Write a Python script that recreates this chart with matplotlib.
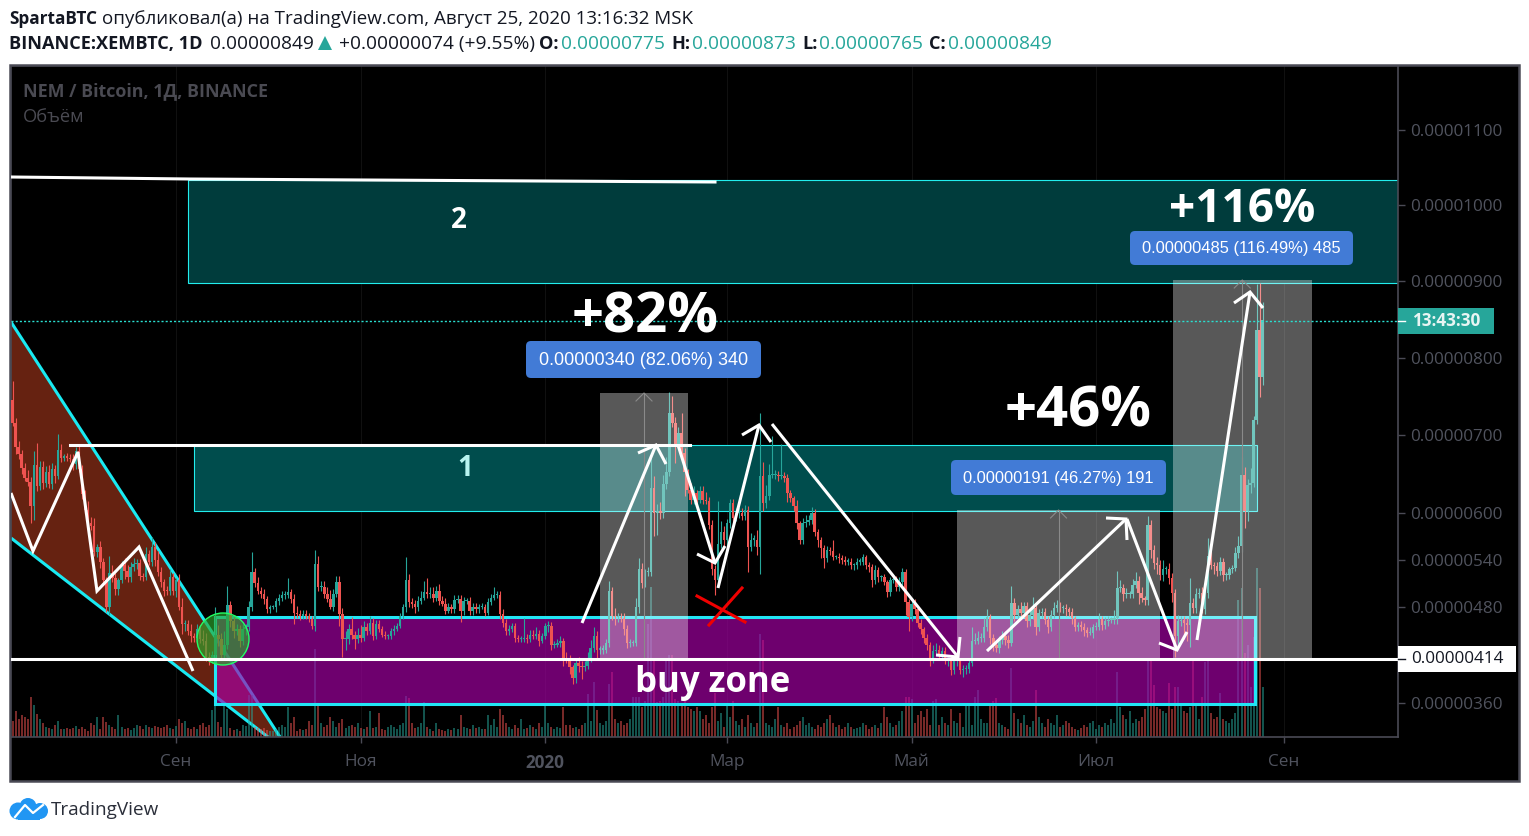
import matplotlib
matplotlib.use('Agg')
import matplotlib.pyplot as plt
import matplotlib.dates as mdates
import numpy as np
import pandas as pd
from matplotlib.patches import Rectangle, Polygon, Circle, FancyBboxPatch
from matplotlib.transforms import Affine2D

# XEMBTC daily candles (prices in satoshi)
start_day = '2019-07-09'
first_open = 745
closes = [
    716, 684, 675, 658, 645, 640, 609, 662, 634, 659,
    639, 652, 637, 656, 648, 681, 671, 672, 671, 669,
    663, 680, 656, 624, 604, 587, 583, 550, 556, 538,
    514, 480, 523, 517, 503, 514, 533, 526, 518, 531,
    535, 536, 520, 518, 548, 538, 557, 540, 525, 512,
    501, 500, 518, 501, 514, 480, 458, 458, 449, 443,
    441, 452, 439, 437, 417, 415, 419, 445, 439, 419,
    432, 482, 462, 449, 452, 437, 452, 454, 480, 525,
    510, 501, 497, 490, 477, 480, 480, 488, 492, 495,
    495, 499, 490, 473, 471, 469, 471, 469, 465, 456,
    535, 505, 505, 497, 490, 480, 497, 512, 471, 439,
    439, 452, 445, 439, 445, 441, 454, 449, 460, 443,
    458, 452, 445, 443, 443, 449, 452, 456, 469, 480,
    514, 486, 484, 480, 488, 492, 499, 497, 497, 492,
    501, 488, 484, 475, 480, 477, 489, 490, 475, 488,
    488, 475, 480, 477, 480, 480, 473, 486, 492, 495,
    495, 471, 460, 449, 452, 456, 441, 439, 439, 441,
    439, 445, 443, 446, 437, 443, 456, 456, 432, 432,
    434, 437, 415, 414, 404, 391, 409, 406, 404, 406,
    415, 428, 443, 426, 426, 426, 434, 501, 469, 467,
    467, 466, 452, 434, 434, 434, 480, 528, 510, 525,
    525, 632, 600, 602, 600, 637, 652, 729, 716, 688,
    703, 677, 652, 630, 617, 626, 617, 628, 617, 615,
    585, 529, 514, 561, 576, 566, 587, 613, 594, 600,
    600, 596, 604, 557, 566, 566, 557, 647, 613, 622,
    649, 649, 649, 647, 648, 645, 626, 619, 609, 587,
    566, 587, 589, 591, 600, 576, 566, 555, 542, 553,
    551, 544, 544, 542, 540, 538, 538, 533, 533, 538,
    538, 544, 533, 531, 514, 527, 518, 518, 512, 499,
    514, 514, 505, 512, 525, 486, 467, 484, 477, 460,
    452, 441, 432, 415, 424, 426, 419, 424, 413, 413,
    400, 411, 411, 400, 402, 402, 409, 437, 437, 441,
    441, 454, 467, 441, 432, 428, 438, 443, 438, 434,
    485, 470, 477, 472, 481, 462, 470, 479, 455, 472,
    474, 464, 455, 470, 479, 483, 479, 479, 477, 474,
    466, 455, 457, 455, 451, 447, 447, 455, 455, 465,
    457, 462, 464, 464, 466, 504, 504, 496, 496, 496,
    508, 513, 498, 491, 489, 585, 553, 536, 534, 521,
    528, 528, 517, 498, 443, 462, 464, 460, 457, 485,
    479, 496, 498, 477, 498, 545, 534, 532, 526, 538,
    521, 521, 528, 530, 549, 558, 649, 602, 636, 638,
    719, 836, 775, 849,
]
# wick lengths above and below the candle body
wick_up = [
    25, 6, 8, 6, 6, 10, 6, 18, 28, 8,
    8, 8, 10, 8, 6, 20, 8, 4, 5, 4,
    6, 4, 6, 6, 5, 12, 8, 10, 4, 8,
    5, 4, 22, 10, 6, 3, 6, 10, 8, 6,
    8, 5, 5, 4, 8, 5, 12, 6, 12, 6,
    4, 6, 10, 6, 3, 8, 12, 5, 6, 10,
    4, 6, 5, 12, 10, 6, 5, 35, 12, 8,
    18, 25, 6, 5, 6, 5, 6, 5, 8, 25,
    5, 8, 4, 6, 4, 3, 3, 4, 5, 5,
    5, 18, 4, 6, 8, 5, 5, 5, 4, 4,
    18, 10, 8, 8, 8, 12, 6, 8, 8, 8,
    10, 6, 15, 4, 8, 12, 8, 6, 8, 6,
    6, 5, 4, 4, 3, 4, 5, 4, 4, 4,
    30, 8, 6, 5, 6, 8, 14, 18, 8, 8,
    6, 8, 6, 8, 5, 4, 6, 5, 5, 5,
    4, 5, 5, 5, 4, 5, 4, 5, 4, 10,
    6, 5, 6, 5, 5, 4, 4, 4, 4, 25,
    5, 6, 6, 8, 5, 4, 4, 6, 5, 5,
    6, 6, 4, 8, 5, 3, 6, 8, 5, 5,
    8, 10, 12, 6, 5, 6, 5, 12, 5, 10,
    5, 5, 6, 5, 5, 4, 12, 14, 8, 4,
    6, 38, 15, 10, 12, 12, 20, 27, 22, 8,
    8, 25, 6, 5, 8, 8, 4, 6, 6, 10,
    5, 6, 5, 54, 14, 8, 5, 5, 5, 6,
    8, 6, 6, 5, 8, 6, 12, 82, 18, 14,
    14, 50, 6, 5, 40, 5, 5, 4, 3, 8,
    3, 6, 8, 6, 8, 5, 3, 3, 4, 5,
    3, 14, 3, 5, 4, 5, 4, 4, 3, 4,
    5, 4, 3, 5, 4, 6, 4, 3, 4, 3,
    4, 4, 5, 6, 5, 3, 4, 8, 6, 4,
    5, 3, 5, 3, 8, 8, 6, 5, 5, 3,
    3, 5, 3, 4, 5, 5, 4, 18, 10, 8,
    6, 12, 10, 4, 5, 4, 5, 6, 6, 6,
    22, 6, 6, 10, 6, 5, 8, 14, 4, 6,
    5, 5, 4, 6, 8, 6, 4, 4, 5, 3,
    5, 3, 4, 5, 5, 4, 8, 3, 6, 8,
    4, 5, 4, 3, 10, 22, 10, 5, 8, 4,
    8, 12, 6, 8, 3, 11, 6, 6, 8, 6,
    12, 4, 8, 6, 5, 8, 5, 4, 6, 32,
    6, 8, 6, 8, 4, 23, 6, 4, 5, 6,
    4, 4, 3, 4, 8, 12, 23, 10, 8, 20,
    6, 60, 62, 24,
]
wick_dn = [
    4, 8, 6, 8, 4, 6, 22, 18, 6, 5,
    8, 6, 5, 6, 10, 4, 5, 4, 4, 4,
    8, 6, 4, 6, 5, 6, 5, 5, 6, 8,
    6, 6, 10, 5, 8, 8, 4, 10, 6, 6,
    5, 6, 6, 5, 4, 5, 6, 8, 5, 6,
    7, 5, 5, 6, 8, 4, 12, 8, 5, 8,
    5, 6, 5, 5, 6, 8, 6, 3, 8, 6,
    6, 5, 8, 8, 4, 8, 5, 8, 4, 5,
    5, 5, 6, 6, 5, 4, 3, 6, 5, 4,
    5, 3, 5, 14, 5, 6, 4, 4, 4, 4,
    6, 4, 5, 5, 4, 3, 5, 4, 15, 22,
    14, 6, 6, 12, 5, 5, 4, 5, 3, 5,
    4, 4, 3, 3, 3, 4, 4, 3, 3, 4,
    6, 6, 5, 8, 5, 4, 3, 6, 5, 5,
    4, 5, 3, 4, 3, 4, 5, 4, 14, 5,
    4, 5, 5, 4, 4, 3, 5, 3, 3, 3,
    4, 6, 5, 5, 4, 4, 6, 4, 3, 4,
    5, 4, 4, 3, 6, 3, 3, 8, 6, 4,
    3, 5, 10, 5, 8, 8, 6, 8, 14, 5,
    4, 5, 5, 12, 6, 6, 4, 5, 6, 10,
    6, 5, 8, 6, 5, 4, 4, 8, 6, 5,
    5, 6, 30, 28, 8, 6, 6, 4, 6, 24,
    5, 6, 30, 5, 5, 6, 5, 4, 5, 4,
    5, 8, 19, 8, 6, 10, 8, 6, 5, 4,
    6, 5, 5, 32, 6, 8, 10, 35, 10, 6,
    5, 4, 5, 6, 4, 5, 12, 5, 6, 8,
    6, 5, 5, 4, 5, 6, 10, 12, 12, 5,
    5, 4, 3, 6, 5, 4, 5, 5, 6, 4,
    4, 5, 4, 6, 8, 5, 6, 5, 4, 6,
    5, 4, 5, 4, 4, 16, 18, 5, 6, 5,
    6, 7, 6, 10, 6, 5, 5, 4, 5, 8,
    6, 5, 6, 5, 8, 6, 5, 4, 4, 4,
    5, 6, 4, 8, 8, 5, 6, 5, 6, 6,
    4, 8, 6, 5, 5, 8, 6, 5, 10, 5,
    6, 5, 8, 5, 4, 5, 5, 6, 8, 6,
    8, 6, 5, 6, 8, 5, 3, 6, 4, 4,
    6, 5, 6, 4, 5, 8, 5, 8, 5, 5,
    4, 4, 14, 5, 6, 6, 10, 8, 12, 6,
    8, 6, 8, 12, 26, 10, 6, 20, 20, 28,
    6, 6, 4, 5, 6, 6, 6, 10, 6, 5,
    8, 6, 5, 4, 4, 6, 8, 21, 12, 10,
    5, 5, 26, 10,
]
volumes = [
    16, 26, 18, 22, 20, 18, 40, 32, 23, 18,
    14, 10, 9, 8, 12, 16, 8, 8, 9, 8,
    9, 11, 8, 10, 8, 6, 14, 12, 20, 8,
    20, 15, 12, 10, 8, 22, 10, 8, 9, 7,
    9, 12, 11, 8, 12, 10, 9, 11, 10, 9,
    10, 12, 9, 8, 11, 18, 14, 16, 9, 8,
    10, 8, 12, 14, 10, 12, 27, 42, 15, 10,
    33, 28, 9, 7, 8, 6, 12, 11, 42, 42,
    10, 9, 8, 9, 7, 6, 6, 8, 10, 12,
    10, 30, 14, 20, 6, 8, 7, 8, 16, 12,
    88, 32, 14, 10, 12, 20, 16, 10, 14, 18,
    9, 11, 12, 10, 14, 9, 8, 10, 26, 9,
    10, 24, 8, 7, 10, 12, 10, 8, 12, 14,
    41, 39, 14, 9, 10, 14, 35, 10, 8, 6,
    14, 8, 7, 6, 8, 7, 9, 8, 22, 10,
    9, 8, 12, 9, 10, 8, 8, 22, 12, 18,
    10, 28, 22, 14, 10, 8, 12, 9, 18, 8,
    9, 12, 10, 8, 14, 10, 32, 14, 10, 8,
    10, 9, 30, 12, 12, 9, 10, 8, 12, 14,
    43, 16, 55, 27, 14, 12, 16, 53, 65, 18,
    14, 16, 12, 14, 18, 40, 40, 40, 30, 36,
    113, 150, 77, 35, 36, 40, 77, 82, 82, 38,
    36, 34, 38, 30, 28, 26, 30, 26, 18, 22,
    14, 30, 44, 16, 24, 10, 32, 20, 36, 16,
    12, 18, 10, 22, 14, 10, 14, 103, 97, 14,
    12, 10, 18, 30, 12, 10, 14, 8, 10, 12,
    16, 20, 12, 14, 10, 8, 12, 10, 14, 18,
    22, 14, 10, 12, 8, 10, 14, 10, 8, 9,
    10, 14, 12, 8, 10, 12, 9, 14, 30, 20,
    14, 10, 12, 16, 26, 40, 40, 38, 14, 22,
    26, 20, 28, 12, 36, 38, 12, 20, 14, 12,
    28, 16, 14, 24, 10, 32, 34, 12, 40, 47,
    18, 14, 14, 32, 36, 39, 14, 12, 10, 8,
    69, 24, 18, 14, 22, 12, 10, 16, 47, 20,
    14, 10, 18, 14, 12, 22, 10, 12, 16, 14,
    10, 8, 7, 9, 12, 10, 14, 16, 8, 12,
    10, 14, 12, 18, 14, 65, 30, 22, 18, 26,
    14, 18, 16, 20, 28, 77, 77, 52, 30, 28,
    26, 24, 54, 28, 50, 50, 32, 26, 24, 30,
    77, 34, 18, 40, 75, 79, 24, 18, 20, 44,
    18, 16, 14, 18, 24, 137, 149, 84, 92, 50,
    100, 169, 149, 50,
]

# price scale of the picture, tick prices and the labels under the chart
price_ticks = [360, 480, 540, 600, 700, 800, 900, 1000, 1100]
last_level = 414
month_ticks = ['2019-09-01', '2019-11-01', '2020-01-01', '2020-03-01', '2020-05-01', '2020-07-01', '2020-09-01']
month_labels = ['Сен', 'Ноя', '2020', 'Мар', 'Май', 'Июл', 'Сен']

W, H = 1529, 836
FONT = 'Open Sans'
UP, DOWN = '#26a69a', '#ef5350'
plt.rcParams['font.family'] = [FONT, 'DejaVu Sans']

# the scale is slightly non linear, so map the known ticks onto their pixel rows
scale_p = np.array([318, 360, 414, 480, 540, 600, 700, 800, 900, 1000, 1100, 1185])
scale_y = np.array([737, 703, 659, 607, 560, 513, 435, 358, 281, 205, 130, 66])
def to_scale(v):
    return np.interp(v, scale_p, -scale_y)
def from_scale(v):
    return np.interp(v, -scale_y, scale_p)

fig = plt.figure(figsize=(W / 100, H / 100), dpi=100, facecolor='white')
ax = fig.add_axes([11 / W, 1 - 737 / H, (1398 - 11) / W, (737 - 66) / H], facecolor='black')
pix = Affine2D().scale(1, -1).translate(0, H)  # hand drawn tools are placed in screen pixels

days = mdates.date2num(pd.date_range(start_day, periods=len(closes)))
closes = np.array(closes, dtype=float)
opens = np.r_[first_open, closes[:-1]]
highs = np.maximum(opens, closes) + np.array(wick_up)
lows = np.minimum(opens, closes) - np.array(wick_dn)
rising = closes >= opens
colors = np.where(rising, UP, DOWN)

ax.set_yscale('function', functions=(to_scale, from_scale))
ax.set_ylim(318, 1185)
sep1 = mdates.date2num(pd.Timestamp('2019-09-01'))
ax.set_xlim(sep1 - (176 - 11) / 3.027, sep1 + (1398 - 176) / 3.027)

# wedge
wedge_top = [(11, 322), (280, 737)]
wedge_low = [(11, 538), (268, 737)]
ax.add_patch(Polygon([wedge_top[0], wedge_top[1], wedge_low[1], wedge_low[0]], closed=True,
                     facecolor='#662211', edgecolor='none', transform=pix, zorder=1))
for seg in (wedge_top, wedge_low):
    ax.plot(*zip(*seg), color='#19eaf2', lw=2.2, transform=pix, zorder=1.5, solid_capstyle='butt')

# volume sits on the bottom edge of the pane
vol_scale = 737 - 66
ax.bar(days, np.array(volumes) / vol_scale, width=0.66, color=colors, alpha=0.5, linewidth=0,
       transform=ax.get_xaxis_transform(), zorder=2)

# resistance zones
ax.add_patch(Rectangle((188, 180), 1398 - 188, 103, facecolor='#003c3c', edgecolor='#22eeee', lw=0.8,
                       transform=pix, zorder=2.5))
ax.add_patch(Rectangle((194, 445), 1257 - 194, 66, facecolor='#004d4d', edgecolor='#22eeee', lw=0.8,
                       transform=pix, zorder=2.5))
# buy zone
ax.add_patch(Rectangle((215, 617), 1255 - 215, 87, facecolor='#aa00aa', alpha=0.65, edgecolor='none',
                       transform=pix, zorder=3))
ax.add_patch(Rectangle((215, 617), 1255 - 215, 87, facecolor='none', edgecolor='#22e6f5', lw=2.2,
                       transform=pix, zorder=3.1))

# candles
ax.vlines(days, lows, highs, colors=colors, lw=0.8, zorder=4)
ax.bar(days, np.maximum(np.abs(closes - opens), 1.5), bottom=np.minimum(opens, closes), width=0.8,
       color=colors, linewidth=0, zorder=4)

ax.add_patch(Circle((223, 639), 26, facecolor='#2ea82e', alpha=0.65, edgecolor='none', transform=pix, zorder=4.5))
ax.add_patch(Circle((223, 639), 26, facecolor='none', edgecolor='#22ff66', lw=1, transform=pix, zorder=4.5))

# measure tools
measures = [(600, 688, 393, '0.00000340 (82.06%) 340', (526, 341, 761, 378), 13),
            (957, 1160, 510, '0.00000191 (46.27%) 191', (951, 460, 1166, 495), 11.9),
            (1172.5, 1312, 280, '0.00000485 (116.49%) 485', (1130, 231, 1353, 265), 11.9)]
for x0, x1, top, label, box, size in measures:
    ax.add_patch(Rectangle((x0, top), x1 - x0, 659 - top, facecolor='white', alpha=0.35, edgecolor='none',
                           transform=pix, zorder=5))
    xc = (x0 + x1) / 2
    ax.plot([xc, xc], [659, top], color='#8a8a8a', lw=0.8, transform=pix, zorder=5.1)
    ax.plot([xc - 8, xc, xc + 8], [top + 8, top, top + 8], color='#8a8a8a', lw=0.8, transform=pix, zorder=5.1)
    bx0, by0, bx1, by1 = box
    ax.add_patch(FancyBboxPatch((bx0 + 5, by0 + 5), bx1 - bx0 - 10, by1 - by0 - 10,
                                boxstyle='round,pad=5,rounding_size=5', facecolor='#427bd6', edgecolor='none',
                                transform=pix, zorder=8))
    ax.text((bx0 + bx1) / 2, (by0 + by1) / 2 + 1, label, color='white', fontsize=size, family='Liberation Sans',
            ha='center', va='center', transform=pix, zorder=9)

# price levels
ax.plot([11, 1398], [659, 659], color='white', lw=2.2, transform=pix, zorder=6)
ax.plot([70, 690], [445, 445], color='white', lw=2.2, transform=pix, zorder=6)
ax.plot([11, 190, 715], [177, 179, 182], color='white', lw=2.2, transform=pix, zorder=6)
ax.plot([11, 1398], [321, 321], color='#2adfd0', lw=1, ls=(0, (1.5, 1.5)), transform=pix, zorder=6)

# freehand wave lines and arrows
strokes = [
    [(11, 493), (33, 551), (78, 452), (97, 591), (139, 547), (193, 671)],
    [(582, 623), (656, 445)], [(638, 453), (656, 445), (666, 464)],
    [(678, 445), (715, 563)], [(697, 554), (715, 563), (725, 546)],
    [(718, 588), (759, 425)], [(742, 435), (759, 425), (771, 442)],
    [(772, 424), (958, 657)], [(936, 655), (958, 657), (960, 637)],
    [(987, 651), (1126, 519)], [(1106, 518), (1126, 519), (1127, 540)],
    [(1127, 519), (1177, 650)], [(1159, 643), (1177, 650), (1187, 632)],
    [(1197, 640), (1250, 292)], [(1234, 303), (1250, 292), (1263, 308)],
]
for s in strokes:
    ax.plot(*zip(*s), color='white', lw=2.2, transform=pix, zorder=7, solid_joinstyle='miter', solid_capstyle='butt')
ax.plot([697, 745], [596, 622], color='#f00000', lw=2.2, transform=pix, zorder=7)
ax.plot([742, 709], [588, 625], color='#f00000', lw=2.2, transform=pix, zorder=7)

# drawn captions
for x, y, s, size in [(645, 318, '+82%', 40.5), (1078, 412, '+46%', 40.5), (1242, 209, '+116%', 33)]:
    ax.text(x, y, s, color='white', fontsize=size, weight='bold', ha='center', va='center', transform=pix, zorder=9)
ax.text(713, 683, 'buy zone', color='white', fontsize=25, weight='bold', ha='center', va='center', transform=pix, zorder=9)
ax.text(459, 220, '2', color='white', fontsize=20, weight='bold', ha='center', va='center', transform=pix, zorder=9)
ax.text(465, 468, '1', color='#b8f4f0', fontsize=20, weight='bold', ha='center', va='center', transform=pix, zorder=9)
ax.text(23, 91, 'NEM / Bitcoin, 1Д, BINANCE', color='#4a4a52', fontsize=12.9, weight='bold', va='center', transform=pix, zorder=9)
ax.text(23, 117, 'Объём', color='#4a4a52', fontsize=13.2, va='center', transform=pix, zorder=9)

# axes
ax.grid(True, axis='x', color='#101010', lw=0.8)
ax.set_axisbelow(True)
ax.yaxis.tick_right()
ax.set_yticks(price_ticks)
ax.set_yticklabels([f'{p * 1e-8:.8f}' for p in price_ticks])
ax.minorticks_off()
ax.tick_params(axis='y', length=5, width=1, color='#4a4a55', labelcolor='#50535e', labelsize=12.3, pad=4)
ax.set_xticks(mdates.date2num(pd.to_datetime(month_ticks)))
ax.set_xticklabels(month_labels)
ax.tick_params(axis='x', length=4, width=1, color='#4a4a55', labelcolor='#50535e', labelsize=12.3, pad=8)
ax.get_xticklabels()[2].set_fontweight('bold')
for side in ax.spines.values():
    side.set_color('#4a4a55')
    side.set_linewidth(1.2)

# frame of the price and time strips
fig.add_artist(Rectangle((10, 65), 1519 - 10, 781 - 65, facecolor='black', edgecolor='#4a4a55', lw=1.8,
                         transform=pix, zorder=-5))

# price tags on the scale
fig.add_artist(Rectangle((1398, 308), 96, 26, facecolor=UP, edgecolor='none', transform=pix, zorder=5))
fig.text(1446 / W, 1 - 321 / H, '13:43:30', color='#e8f5f3', fontsize=12.3, weight='bold', ha='center', va='center', zorder=6)
fig.add_artist(Rectangle((1398, 646), 118, 26, facecolor='white', edgecolor='none', transform=pix, zorder=5))
fig.text(1457 / W, 1 - 659 / H, f'{last_level * 1e-8:.8f}', color='#131722', fontsize=12.3, ha='center', va='center', zorder=6)
fig.add_artist(plt.Line2D([1398, 1405], [659, 659], color='#131722', lw=1, transform=pix, zorder=6))
fig.add_artist(plt.Line2D([1398, 1405], [321, 321], color='white', lw=1, transform=pix, zorder=6))

# header
line1 = [(9, 'SpartaBTC', '#131722', 'bold'), (102, 'опубликовал(а) на TradingView.com, Август 25, 2020 13:16:32 MSK', '#131722', 'normal')]
line2 = [(9, 'BINANCE:XEMBTC, 1D', '#131722', 'bold'), (210, '0.00000849', '#131722', 'normal'),
         (339, '+0.00000074 (+9.55%)', '#131722', 'normal'),
         (539, 'O:', '#131722', 'bold'), (561, '0.00000775', UP, 'normal'),
         (671, 'H:', '#131722', 'bold'), (692, '0.00000873', UP, 'normal'),
         (802, 'L:', '#131722', 'bold'), (819, '0.00000765', UP, 'normal'),
         (929, 'C:', '#131722', 'bold'), (948, '0.00000849', UP, 'normal')]
for y, row, bold_size, reg_size in ((19.5, line1, 12.4, 13.5), (44, line2, 13.1, 13.8)):
    for x, s, c, w in row:
        fig.text(x / W, 1 - y / H, s, color=c, weight=w, fontsize=bold_size if w == 'bold' else reg_size, va='center')
fig.add_artist(Polygon([(318, 50), (325, 36), (332, 50)], closed=True, facecolor=UP, edgecolor='none', transform=pix))

# TradingView logo
cloud = [Circle((18, 811), 8.5, facecolor='#2196f3', transform=pix),
         Circle((28, 806.5), 8.5, facecolor='#2196f3', transform=pix),
         Circle((40, 811), 8, facecolor='#2196f3', transform=pix),
         Rectangle((18, 811), 22, 8.5, facecolor='#2196f3', transform=pix)]
for c in cloud:
    c.set_edgecolor('none')
    fig.add_artist(c)
fig.add_artist(plt.Line2D([15, 25, 33, 43], [817, 805, 813, 805], color='white', lw=1.6, transform=pix))
fig.text(51 / W, 1 - 810 / H, 'TradingView', color='#2a2e39', fontsize=13.6, va='center')

fig.savefig('out.png', dpi=100, facecolor='white')
